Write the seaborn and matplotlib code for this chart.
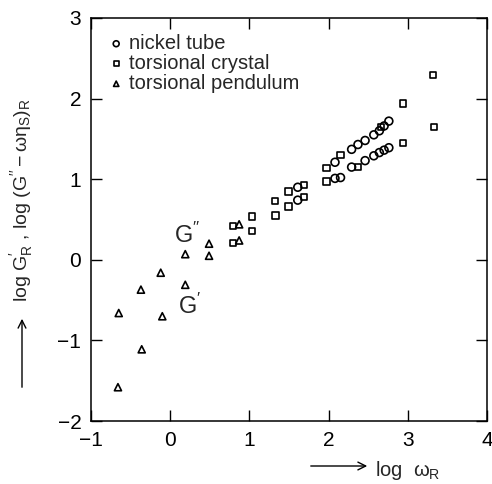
import pandas as pd
import matplotlib
matplotlib.use("Agg")
import matplotlib.pyplot as plt
import seaborn as sns

# nickel tube (circles): upper branch G'' and lower branch G'
nickel_x = [1.61, 2.08, 2.29, 2.37, 2.46, 2.57, 2.64, 2.70, 2.76,
            1.61, 2.08, 2.15, 2.29, 2.46, 2.57, 2.64, 2.70, 2.76]
nickel_y = [0.90, 1.21, 1.37, 1.43, 1.48, 1.55, 1.60, 1.66, 1.72,
            0.74, 1.01, 1.02, 1.15, 1.23, 1.29, 1.33, 1.36, 1.39]

# torsional crystal (squares)
crystal_x = [0.79, 1.03, 1.32, 1.49, 1.69, 1.97, 2.15, 2.66, 2.94, 3.32,
             0.79, 1.03, 1.33, 1.49, 1.69, 1.97, 2.37, 2.94, 3.33]
crystal_y = [0.42, 0.54, 0.73, 0.85, 0.93, 1.14, 1.30, 1.65, 1.94, 2.29,
             0.21, 0.36, 0.55, 0.66, 0.78, 0.97, 1.15, 1.45, 1.65]

# torsional pendulum (triangles)
pendulum_x = [-0.65, -0.37, -0.12, 0.19, 0.49, 0.87,
              -0.66, -0.36, -0.10, 0.19, 0.49, 0.87]
pendulum_y = [-0.66, -0.37, -0.16, 0.07, 0.20, 0.44,
              -1.58, -1.11, -0.70, -0.31, 0.05, 0.24]

series = [("nickel tube", nickel_x, nickel_y, "o", 32),
          ("torsional crystal", crystal_x, crystal_y, "s", 22),
          ("torsional pendulum", pendulum_x, pendulum_y, "^", 26)]

sns.set_style("ticks")
plt.rcParams["font.family"] = ["Liberation Sans", "DejaVu Sans"]
plt.rcParams["mathtext.fontset"] = "custom"
plt.rcParams["mathtext.rm"] = "Liberation Sans"
plt.rcParams["mathtext.it"] = "Liberation Sans"

fig = plt.figure(figsize=(4.92, 4.84), dpi=100)
ax = fig.add_axes([0.185, 0.130, 0.805, 0.833])

for name, xs, ys, mk, sz in series:
    df = pd.DataFrame({"x": xs, "y": ys})
    sns.scatterplot(data=df, x="x", y="y", ax=ax, marker=mk, s=sz,
                    facecolor="none", edgecolor="black", linewidth=1.2,
                    label=name)

ax.set_xlim(-1, 4)
ax.set_ylim(-2, 3)
ax.set_xticks([-1, 0, 1, 2, 3, 4])
ax.set_yticks([-2, -1, 0, 1, 2, 3])
ax.tick_params(direction="in", length=8, width=1, top=True, right=True,
               labelsize=15, pad=7, colors="black")
for sp in ax.spines.values():
    sp.set_linewidth(1.1)
    sp.set_color("black")
ax.set_xlabel("")
ax.set_ylabel("")

ax.legend(loc="upper left", frameon=False, fontsize=14.5, handletextpad=0.2,
          labelspacing=0.05, borderaxespad=0.4, handlelength=0.9,
          markerscale=0.75)

ax.text(0.22, 0.31, "G$^{\\prime\\prime}$", fontsize=17, ha="center", va="center")
ax.text(0.24, -0.58, "G$^{\\prime}$", fontsize=17, ha="center", va="center")

# axis labels with arrows
fig.text(375 / 492, 1 - 470 / 484, "log  $\\omega_R$", fontsize=14.5,
         ha="left", va="center")
fig.add_artist(matplotlib.patches.FancyArrowPatch(
    (308 / 492, 1 - 466 / 484), (370 / 492, 1 - 466 / 484),
    transform=fig.transFigure, arrowstyle="->", mutation_scale=14,
    color="black", linewidth=1.0))

fig.text(22 / 492, 1 - 200 / 484,
         "log G$^{\\prime}_R$ , log (G$^{\\prime\\prime}-\\omega\\eta_S)_R$",
         fontsize=14, rotation=90, ha="center", va="center")
fig.add_artist(matplotlib.patches.FancyArrowPatch(
    (22 / 492, 1 - 390 / 484), (22 / 492, 1 - 316 / 484),
    transform=fig.transFigure, arrowstyle="->", mutation_scale=14,
    color="black", linewidth=1.0))

fig.savefig("out.png", dpi=100)
